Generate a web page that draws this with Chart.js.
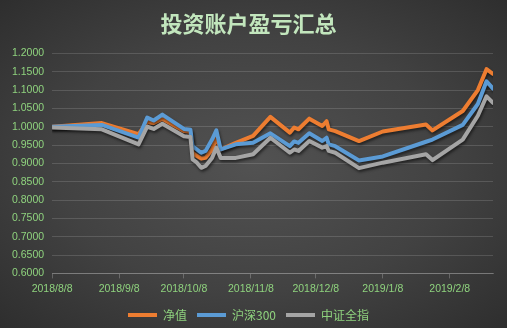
<!DOCTYPE html>
<html>
<head>
<meta charset="utf-8">
<script src="https://cdn.jsdelivr.net/npm/chart.js@4.4.1/dist/chart.umd.min.js"></script>
<style>
  html, body { margin: 0; padding: 0; }
  body {
    width: 507px;
    height: 328px;
    overflow: hidden;
    background: radial-gradient(ellipse at 50% 50%, #525252 0%, #424242 55%, #2e2e2e 100%);
  }
  #wrap { position: relative; width: 507px; height: 328px; }
</style>
</head>
<body>
<div id="wrap"><canvas id="pnlChart"></canvas></div>
<script>
// Data
const dates = [
  "2018-08-08", "2018-08-31", "2018-09-17", "2018-09-21", "2018-09-24", "2018-09-28",
  "2018-10-08", "2018-10-11", "2018-10-12", "2018-10-14", "2018-10-16", "2018-10-18",
  "2018-10-21", "2018-10-23", "2018-10-25", "2018-11-01", "2018-11-09", "2018-11-17",
  "2018-11-26", "2018-11-28", "2018-11-30", "2018-12-05", "2018-12-11", "2018-12-13",
  "2018-12-14", "2018-12-17", "2018-12-28", "2019-01-08", "2019-01-28", "2019-01-31",
  "2019-02-14", "2019-02-21", "2019-02-25", "2019-02-28"
];
const netValue = [
  1.000, 1.010, 0.980, 1.013, 1.010, 1.022,
  0.988, 0.986, 0.929, 0.920, 0.913, 0.915,
  0.938, 0.970, 0.938, 0.956, 0.975, 1.027,
  0.984, 0.998, 0.993, 1.022, 1.002, 1.015,
  0.993, 0.988, 0.961, 0.987, 1.006, 0.990,
  1.043, 1.100, 1.157, 1.144
];
const hs300 = [
  1.000, 1.005, 0.970, 1.025, 1.017, 1.033,
  0.994, 0.992, 0.947, 0.938, 0.929, 0.934,
  0.965, 0.990, 0.938, 0.952, 0.956, 0.982,
  0.947, 0.960, 0.956, 0.982, 0.961, 0.970,
  0.952, 0.947, 0.908, 0.919, 0.959, 0.965,
  1.005, 1.062, 1.124, 1.104
];
const csiAll = [
  0.998, 0.993, 0.952, 1.000, 0.994, 1.008,
  0.974, 0.972, 0.911, 0.902, 0.888, 0.893,
  0.915, 0.943, 0.915, 0.915, 0.925, 0.970,
  0.929, 0.938, 0.934, 0.961, 0.943, 0.947,
  0.934, 0.929, 0.887, 0.902, 0.925, 0.909,
  0.965, 1.030, 1.083, 1.065
];
const tickDates = ["2018-08-08", "2018-09-08", "2018-10-08", "2018-11-08", "2018-12-08", "2019-01-08", "2019-02-08"];
const tickLabels = ["2018/8/8", "2018/9/8", "2018/10/8", "2018/11/8", "2018/12/8", "2019/1/8", "2019/2/8"];

const labelGreen = "#8fd37e";
const gridColor = "rgba(255,255,255,0.14)";

// days since first date
function dayNum(s) {
  return (Date.parse(s) - Date.parse(dates[0])) / 86400000;
}

function toPoints(values) {
  return dates.map((d, i) => ({ x: dayNum(d), y: values[i] }));
}

const tickDays = tickDates.map(dayNum);

// soft shadow under the lines, like the Excel effect
const lineShadow = {
  id: "lineShadow",
  beforeDatasetDraw(chart) {
    const ctx = chart.ctx;
    ctx.save();
    ctx.shadowColor = "rgba(0,0,0,0.55)";
    ctx.shadowBlur = 3;
    ctx.shadowOffsetX = 1;
    ctx.shadowOffsetY = 2;
  },
  afterDatasetDraw(chart) {
    chart.ctx.restore();
  },
};

function makeSet(label, values, color, order) {
  return {
    label: label,
    data: toPoints(values),
    borderColor: color,
    backgroundColor: color,
    borderWidth: 4,
    borderCapStyle: "round",
    borderJoinStyle: "round",
    pointRadius: 0,
    tension: 0,
    order: order,
  };
}

new Chart(document.getElementById("pnlChart"), {
  type: "line",
  data: {
    datasets: [
      makeSet("净值", netValue, "#ed7d31", 3),
      makeSet("沪深300", hs300, "#5b9bd5", 2),
      makeSet("中证全指", csiAll, "#a5a5a5", 1),
    ],
  },
  plugins: [lineShadow],
  options: {
    responsive: true,
    maintainAspectRatio: false,
    animation: false,
    layout: { padding: { left: 4, right: 14, top: 8, bottom: -3 } },
    plugins: {
      title: {
        display: true,
        text: "投资账户盈亏汇总",
        color: "#c2e6bd",
        font: { family: "'Noto Sans CJK SC'", size: 22, weight: "bold" },
        padding: { top: 2, bottom: 17 },
      },
      legend: {
        position: "bottom",
        labels: {
          color: labelGreen,
          font: { family: "'Noto Sans CJK SC'", size: 12 },
          usePointStyle: true,
          pointStyle: "line",
          pointStyleWidth: 29,
          padding: 10,
          sort: (a, b) => a.datasetIndex - b.datasetIndex,
        },
      },
      tooltip: { enabled: false },
    },
    scales: {
      x: {
        type: "linear",
        min: 0,
        max: dayNum(dates[dates.length - 1]),
        afterBuildTicks: (scale) => {
          scale.ticks = tickDays.map((v) => ({ value: v }));
        },
        ticks: {
          color: labelGreen,
          font: { family: "'Liberation Sans'", size: 10.5 },
          maxRotation: 0,
          autoSkip: false,
          padding: 4,
          callback: (v) => {
            const i = tickDays.indexOf(v);
            return i >= 0 ? tickLabels[i] : "";
          },
        },
        grid: {
          drawOnChartArea: false,
          drawTicks: true,
          tickLength: 5,
          color: "rgba(255,255,255,0.22)",
        },
        border: { color: "rgba(255,255,255,0.22)" },
      },
      y: {
        min: 0.6,
        max: 1.2,
        ticks: {
          stepSize: 0.05,
          color: labelGreen,
          font: { family: "'Liberation Sans'", size: 10.5 },
          padding: 8,
          callback: (v) => Number(v).toFixed(4),
        },
        grid: { color: gridColor, drawTicks: false },
        border: { display: false },
      },
    },
  },
});
</script>
</body>
</html>
